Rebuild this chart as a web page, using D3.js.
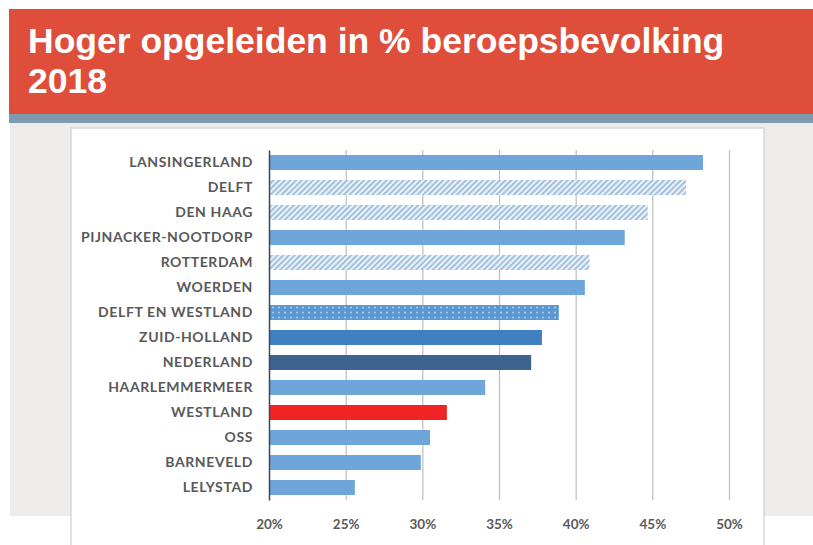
<!DOCTYPE html>
<html>
<head>
<meta charset="utf-8">
<script src="https://cdn.jsdelivr.net/npm/d3@7"></script>
<style>
  body { margin: 0; background: #fff; }
  svg { display: block; }
</style>
</head>
<body>
<div id="chart"></div>
<script>
// data
const categories = ["LANSINGERLAND", "DELFT", "DEN HAAG", "PIJNACKER-NOOTDORP", "ROTTERDAM", "WOERDEN",
  "DELFT EN WESTLAND", "ZUID-HOLLAND", "NEDERLAND", "HAARLEMMERMEER", "WESTLAND", "OSS", "BARNEVELD", "LELYSTAD"];
const values = [48.3, 47.2, 44.7, 43.2, 40.9, 40.6, 38.9, 37.8, 37.1, 34.1, 31.6, 30.5, 29.9, 25.6];
const fills = ["plain", "hatch", "hatch", "plain", "hatch", "plain", "dots", "zuid", "ned", "plain", "red", "plain", "plain", "plain"];
const tickValues = [20, 25, 30, 35, 40, 45, 50];
const titleLines = ["Hoger opgeleiden in % beroepsbevolking", "2018"];

const width = 813, height = 545;
const svg = d3.select("#chart").append("svg")
  .attr("width", width)
  .attr("height", height);

const defs = svg.append("defs");

// light diagonal hatch
const hatch = defs.append("pattern")
  .attr("id", "hatch")
  .attr("patternUnits", "userSpaceOnUse")
  .attr("width", 4).attr("height", 4)
  .attr("patternTransform", "rotate(45)");
hatch.append("rect").attr("width", 4).attr("height", 4).attr("fill", "#eaf1f8");
hatch.append("rect").attr("width", 1.7).attr("height", 4).attr("fill", "#96b9da");

// blue with white dots
const dots = defs.append("pattern")
  .attr("id", "dots")
  .attr("patternUnits", "userSpaceOnUse")
  .attr("width", 6).attr("height", 5);
dots.append("rect").attr("width", 6).attr("height", 5).attr("fill", "#5b98d2");
dots.append("circle").attr("cx", 3).attr("cy", 2.5).attr("r", 0.9).attr("fill", "#b9d3ec");

const fillColor = {
  plain: "#6ea6d9",
  hatch: "url(#hatch)",
  dots: "url(#dots)",
  zuid: "#3f80c1",
  ned: "#3d6390",
  red: "#f02424"
};

// background pieces
svg.append("rect").attr("x", 10).attr("y", 122).attr("width", width - 10).attr("height", 394).attr("fill", "#eeebeb");
svg.append("rect").attr("x", 9).attr("y", 9).attr("width", width - 9).attr("height", 106).attr("fill", "#de4e3b");
svg.append("rect").attr("x", 9).attr("y", 114).attr("width", width - 9).attr("height", 9).attr("fill", "#7f9aae");
svg.append("rect").attr("x", 71).attr("y", 128).attr("width", 693).attr("height", 418)
  .attr("fill", "#fff").attr("stroke", "#d8d8d8").attr("stroke-width", 1.5);

// title
const title = svg.append("text")
  .attr("fill", "#fff")
  .attr("font-family", "'Liberation Sans', Arial, sans-serif")
  .attr("font-weight", "bold")
  .attr("font-size", 35.5);
title.selectAll("tspan").data(titleLines).join("tspan")
  .attr("x", 28)
  .attr("y", (d, i) => 53 + i * 40)
  .text(d => d);

// scales
const x = d3.scaleLinear().domain([20, 50]).range([269, 729]);
const y = d3.scaleBand().domain(categories).range([150, 500]).paddingInner(0.4).paddingOuter(0.2);

// gridlines
const grid = svg.append("g")
  .attr("transform", "translate(0,500)")
  .call(d3.axisBottom(x).tickValues(tickValues.slice(1)).tickSize(-350).tickFormat(""));
grid.select(".domain").remove();
grid.selectAll("line").attr("stroke", "#bdbdbd").attr("stroke-width", 1.2);

// bars
svg.append("g").selectAll("rect")
  .data(categories)
  .join("rect")
  .attr("x", x(20))
  .attr("y", d => y(d))
  .attr("width", (d, i) => x(values[i]) - x(20))
  .attr("height", y.bandwidth())
  .attr("fill", (d, i) => fillColor[fills[i]]);

// category axis
const yAxis = svg.append("g")
  .attr("transform", `translate(${x(20)},0)`)
  .call(d3.axisLeft(y).tickSize(0).tickPadding(16));
yAxis.select(".domain").attr("stroke", "#3b4756").attr("stroke-width", 1.5);
yAxis.selectAll("text")
  .attr("fill", "#595959")
  .attr("font-family", "Lato, 'Open Sans', sans-serif")
  .attr("font-weight", "bold")
  .attr("font-size", 14)
  .attr("letter-spacing", 0.6);

// value axis labels
const xAxis = svg.append("g")
  .attr("transform", "translate(0,513)")
  .call(d3.axisBottom(x).tickValues(tickValues).tickSize(0).tickPadding(6).tickFormat(d => d + "%"));
xAxis.select(".domain").remove();
xAxis.selectAll("text")
  .attr("fill", "#595959")
  .attr("font-family", "Lato, 'Open Sans', sans-serif")
  .attr("font-weight", "bold")
  .attr("font-size", 13.5);
</script>
</body>
</html>
